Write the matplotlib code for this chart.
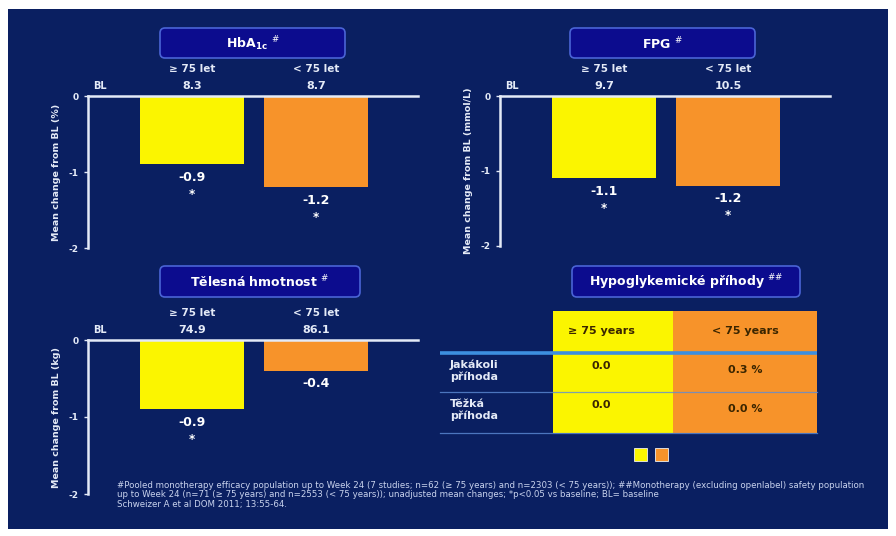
import numpy as np
import matplotlib.pyplot as plt
from matplotlib.patches import FancyBboxPatch, Rectangle

plt.rcParams['font.family'] = ['DejaVu Sans']
plt.rcParams['mathtext.fontset'] = 'dejavusans'

# data
skupiny = ["≥ 75 let", "< 75 let"]
hba1c_bl = ["8.3", "8.7"]
hba1c_zmena = [-0.9, -1.2]
hba1c_hvezda = [True, True]
fpg_bl = ["9.7", "10.5"]
fpg_zmena = [-1.1, -1.2]
fpg_hvezda = [True, True]
vaha_bl = ["74.9", "86.1"]
vaha_zmena = [-0.9, -0.4]
vaha_hvezda = [True, False]
hypo_sloupce = ["≥ 75 years", "< 75 years"]
hypo_radky = ["Jakákoli\npříhoda", "Těžká\npříhoda"]
hypo_hodnoty = [["0.0", "0.3 %"], ["0.0", "0.0 %"]]

W, H = 896, 536
NAVY = '#0a1f61'
BOX = '#0c0c8e'
YEL = '#fbf500'
ORA = '#f7932a'
LINE = '#e4eaf7'

fig = plt.figure(figsize=(W / 100, H / 100), dpi=100, facecolor='white')
plat = fig.add_axes([0, 0, 1, 1])
plat.set_xlim(0, W)
plat.set_ylim(H, 0)
plat.axis('off')
plat.add_patch(Rectangle((8, 9), 880, 520, facecolor=NAVY, edgecolor='none'))


def osa(x0, y0, x1, y1):
    return fig.add_axes([x0 / W, 1 - y1 / H, (x1 - x0) / W, (y1 - y0) / H])


def nadpis(x0, y0, x1, y1, text):
    plat.add_patch(FancyBboxPatch((x0, y0), x1 - x0, y1 - y0,
                                  boxstyle="round,pad=0,rounding_size=5",
                                  facecolor=BOX, edgecolor='#4a64d6', lw=1.2))
    plat.text((x0 + x1) / 2, (y0 + y1) / 2 + 1, text, color='white',
              fontsize=9, fontweight='bold', ha='center', va='center')


def panel(box, bl, zmena, hvezda, jednotka):
    ax = osa(*box)
    ax.set_facecolor('none')
    sirka = box[2] - box[0]
    stredy = [104, 228]
    ax.bar(stredy, zmena, width=104, color=[YEL, ORA], zorder=2)
    ax.set_xlim(0, sirka)
    ax.set_ylim(-2, 0)
    for s in ['right', 'bottom']:
        ax.spines[s].set_visible(False)
    for s in ['left', 'top']:
        ax.spines[s].set_color(LINE)
        ax.spines[s].set_linewidth(1.8)
        ax.spines[s].set_zorder(3)
    ax.set_xticks([])
    ax.set_yticks([0, -1, -2])
    ax.set_yticklabels(['0', '-1', '-2'])
    ax.tick_params(axis='y', colors=LINE, labelsize=6.5, length=3, width=1, pad=4)
    for t in ax.get_yticklabels():
        t.set_fontweight('bold')
    ax.set_ylabel("Mean change from BL (%s)" % jednotka, color=LINE,
                  fontsize=6.8, fontweight='bold', labelpad=5)
    ax.annotate("BL", xy=(12, 0), xytext=(0, 10), textcoords='offset pixels',
                color=LINE, fontsize=7, fontweight='bold', ha='center', va='center')
    for x, g, b, z, h in zip(stredy, skupiny, bl, zmena, hvezda):
        ax.annotate(g, xy=(x, 0), xytext=(0, 27), textcoords='offset pixels',
                    color=LINE, fontsize=7.5, fontweight='bold', ha='center', va='center')
        ax.annotate(b, xy=(x, 0), xytext=(0, 10), textcoords='offset pixels',
                    color=LINE, fontsize=8, fontweight='bold', ha='center', va='center')
        ax.annotate("%.1f" % z, xy=(x, z), xytext=(0, -13), textcoords='offset pixels',
                    color='white', fontsize=9, fontweight='bold', ha='center', va='center')
        if h:
            ax.annotate("*", xy=(x, z), xytext=(0, -30), textcoords='offset pixels',
                        color='white', fontsize=8.5, fontweight='bold', ha='center', va='center')
    return ax


nadpis(160, 28, 345, 58, r"HbA$_{\mathbf{1c}}$ $^{\#}$")
panel((88, 96, 418, 248), hba1c_bl, hba1c_zmena, hba1c_hvezda, "%")

nadpis(570, 28, 755, 58, r"FPG $^{\#}$")
panel((500, 96, 830, 246), fpg_bl, fpg_zmena, fpg_hvezda, "mmol/L")

nadpis(160, 266, 360, 297, r"Tělesná hmotnost $^{\#}$")
panel((88, 340, 418, 494), vaha_bl, vaha_zmena, vaha_hvezda, "kg")

# hypoglykemie - tabulka
nadpis(572, 266, 800, 297, r"Hypoglykemické příhody $^{\#\#}$")
sl_x = [553, 673, 817]
sl_barvy = [YEL, ORA]
sl_text = [601, 745]
for i in range(2):
    plat.add_patch(Rectangle((sl_x[i], 311), sl_x[i + 1] - sl_x[i], 122,
                             facecolor=sl_barvy[i], edgecolor='none'))
    plat.text(sl_text[i], 331, hypo_sloupce[i], color='#3a2500', fontsize=8,
              fontweight='bold', ha='center', va='center')
plat.plot([440, 817], [353, 353], color='#3d8fe0', lw=2.6, solid_capstyle='butt')
for y in [392, 433]:
    plat.plot([440, 817], [y, y], color='#5d8cd6', lw=0.9, alpha=0.8)
for r, (nazev, hodnoty) in enumerate(zip(hypo_radky, hypo_hodnoty)):
    y0 = 371 + r * 39
    plat.text(450, y0, nazev, color=LINE, fontsize=8, fontweight='bold',
              ha='left', va='center', linespacing=1.2)
    plat.text(sl_text[0], y0 - 5, hodnoty[0], color='#3a2500', fontsize=8,
              fontweight='bold', ha='center', va='center')
    plat.text(sl_text[1], y0 - 1, hodnoty[1], color='#3a2500', fontsize=8,
              fontweight='bold', ha='center', va='center')
for x, c in zip([634, 655], sl_barvy):
    plat.add_patch(Rectangle((x, 448), 13, 13, facecolor=c, edgecolor='#f0f0f0', lw=0.6))

poznamka = [
    "#Pooled monotherapy efficacy population up to Week 24 (7 studies; n=62 (≥ 75 years) and n=2303 (< 75 years)); "
    "##Monotherapy (excluding openlabel) safety population",
    "up to Week 24 (n=71 (≥ 75 years) and n=2553 (< 75 years)); unadjusted mean changes; *p<0.05 vs baseline; BL= baseline",
    "Schweizer A et al DOM 2011; 13:55-64.",
]
for i, radek in enumerate(poznamka):
    plat.text(117, 485 + i * 9.5, radek, color='#c9d3ee', fontsize=6.2,
              ha='left', va='center')

fig.savefig("out.png", dpi=100, facecolor='white')
